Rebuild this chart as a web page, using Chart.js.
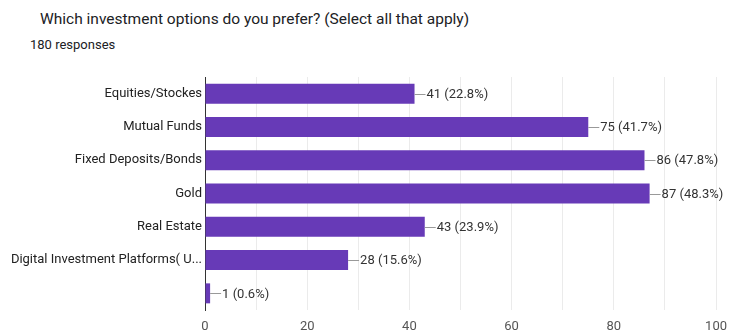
<!DOCTYPE html>
<html>
<head>
<meta charset="utf-8">
<script src="https://cdn.jsdelivr.net/npm/chart.js@4"></script>
<style>
  body { margin: 0; background: #fff; font-family: Roboto, Arial, sans-serif; }
  #wrap { position: relative; width: 736px; height: 335px; }
  #title { position: absolute; left: 40px; top: 10px; font-size: 15.5px; color: #202124; }
  #sub { position: absolute; left: 30px; top: 37px; font-size: 13px; color: #202124; }
  canvas { position: absolute; left: 0; top: 0; }
</style>
</head>
<body>
<div id="wrap">
  <div id="title">Which investment options do you prefer? (Select all that apply)</div>
  <div id="sub">180 responses</div>
  <canvas id="investChart" width="736" height="335"></canvas>
</div>
<script>
// categories and answer counts
const categories = ["Equities/Stockes", "Mutual Funds", "Fixed Deposits/Bonds", "Gold", "Real Estate", "Digital Investment Platforms( U...", ""];
const counts = [41, 75, 86, 87, 43, 28, 1];
const percents = ["22.8%", "41.7%", "47.8%", "48.3%", "23.9%", "15.6%", "0.6%"];
const xTicks = [0, 20, 40, 60, 80, 100];

// leader line + "n (p%)" label after each bar
const barLabels = {
    id: "barLabels",
    afterDatasetsDraw(chart) {
        const ctx = chart.ctx;
        const meta = chart.getDatasetMeta(0);
        ctx.save();
        ctx.font = "13px Roboto, Arial, sans-serif";
        ctx.textBaseline = "middle";
        meta.data.forEach((bar, i) => {
            ctx.strokeStyle = "#999";
            ctx.lineWidth = 1;
            ctx.beginPath();
            ctx.moveTo(bar.x, Math.round(bar.y) + 0.5);
            ctx.lineTo(bar.x + 11, Math.round(bar.y) + 0.5);
            ctx.stroke();
            ctx.fillStyle = "#333";
            ctx.fillText(counts[i] + " (" + percents[i] + ")", bar.x + 12, bar.y + 1);
        });
        ctx.restore();
    }
};

const ctx1 = document.getElementById("investChart").getContext("2d");
let investChart = new Chart(ctx1, {
    type: "bar",
    data: {
        labels: categories,
        datasets: [{
            data: counts,
            backgroundColor: "#673ab7",
            borderWidth: 0,
            barPercentage: 0.6,
            categoryPercentage: 1,
        }],
    },
    plugins: [barLabels],
    options: {
        indexAxis: "y",
        responsive: false,
        animation: false,
        layout: {
            padding: { top: 77, right: 14, bottom: 0, left: 0 },
        },
        plugins: {
            legend: { display: false },
            tooltip: { enabled: false },
        },
        scales: {
            x: {
                min: 0,
                max: 100,
                ticks: {
                    stepSize: 10,
                    color: "#555",
                    padding: 9,
                    font: { family: "Roboto, Arial, sans-serif", size: 13 },
                    callback: (v) => xTicks.includes(v) ? v : "",
                    maxRotation: 0,
                    autoSkip: false,
                },
                grid: { color: "#ebebeb", drawTicks: false },
                border: { display: false },
                afterFit: (scale) => { scale.height = 25; },
            },
            y: {
                ticks: {
                    color: "#222",
                    font: { family: "Roboto, Arial, sans-serif", size: 13 },
                    padding: 3,
                    autoSkip: false,
                },
                grid: { display: false, drawTicks: false },
                border: { display: true, color: "#333", width: 1 },
                afterFit: (scale) => { scale.width = 205; },
            },
        },
    },
});
</script>
</body>
</html>
